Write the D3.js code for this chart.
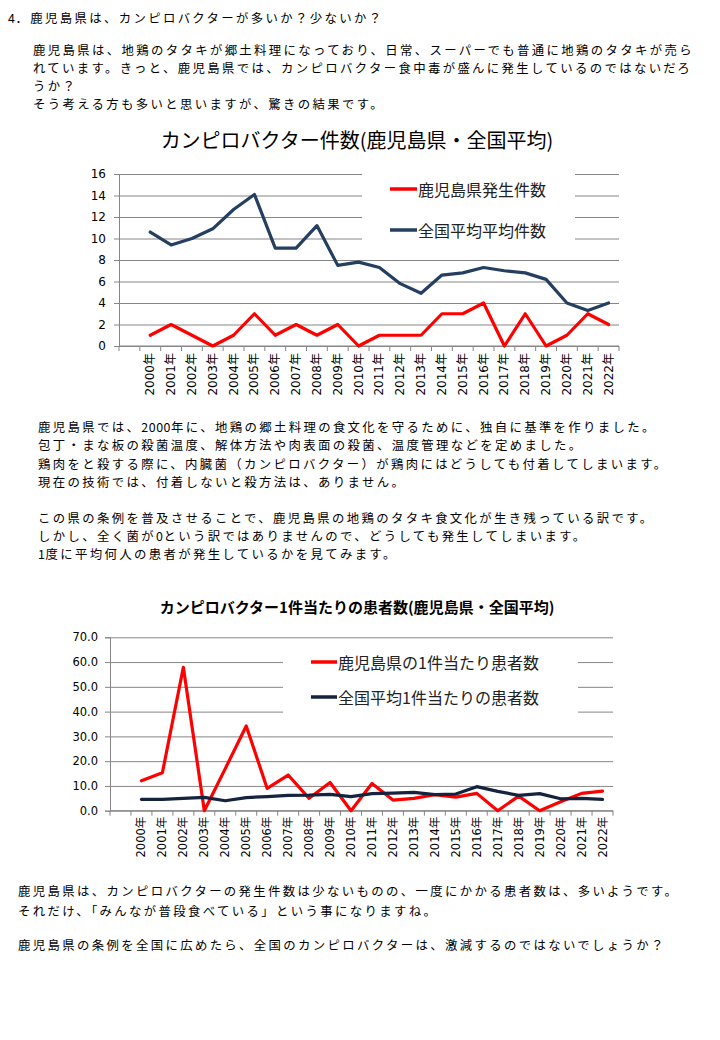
<!DOCTYPE html>
<html><head><meta charset="utf-8">
<script src="https://cdn.jsdelivr.net/npm/d3@7"></script>
<style>
html,body{margin:0;padding:0;background:#fff;}
svg{display:block;}
</style></head>
<body>
<svg id="page" width="720" height="1040"></svg>
<script>
// ---------- data ----------
const years = ["2000年","2001年","2002年","2003年","2004年","2005年","2006年","2007年","2008年","2009年","2010年","2011年","2012年","2013年","2014年","2015年","2016年","2017年","2018年","2019年","2020年","2021年","2022年"];
const categories = [""].concat(years); // the original chart has one empty leading category slot
const kagoshimaCases = [1,2,1,0,1,3,1,2,1,2,0,1,1,1,3,3,4,0,3,0,1,3,2];
const nationalCases = [10.6,9.4,10.0,10.9,12.7,14.1,9.1,9.1,11.2,7.5,7.8,7.3,5.8,4.9,6.6,6.8,7.3,7.0,6.8,6.2,4.0,3.3,4.0];
const kagoshimaPatients = [12.1,15.3,57.9,0,17.0,34.2,9.0,14.4,5.0,11.4,0,11.0,4.3,5.0,6.5,5.5,7.0,0,5.9,0,3.6,7.0,7.9];
const nationalPatients = [4.6,4.6,5.0,5.4,4.0,5.3,5.7,6.2,6.3,6.6,5.7,6.9,7.1,7.4,6.5,6.7,9.7,7.8,6.2,6.9,4.8,5.0,4.6];
const casesTicks = [0,2,4,6,8,10,12,14,16];
const patientsTicks = [0,10,20,30,40,50,60,70];

const title1 = "カンピロバクター件数(鹿児島県・全国平均)";
const title2 = "カンピロバクター1件当たりの患者数(鹿児島県・全国平均)";
const legend1 = ["鹿児島県発生件数","全国平均平均件数"];
const legend2 = ["鹿児島県の1件当たり患者数","全国平均1件当たりの患者数"];

const heading = "4．鹿児島県は、カンピロバクターが多いか？少ないか？";
const para1 = ["鹿児島県は、地鶏のタタキが郷土料理になっており、日常、スーパーでも普通に地鶏のタタキが売ら",
"れています。きっと、鹿児島県では、カンピロバクター食中毒が盛んに発生しているのではないだろ",
"うか？",
"そう考える方も多いと思いますが、驚きの結果です。"];
const para2 = ["鹿児島県では、2000年に、地鶏の郷土料理の食文化を守るために、独自に基準を作りました。",
"包丁・まな板の殺菌温度、解体方法や肉表面の殺菌、温度管理などを定めました。",
"鶏肉をと殺する際に、内臓菌（カンピロバクター）が鶏肉にはどうしても付着してしまいます。",
"現在の技術では、付着しないと殺方法は、ありません。",
"",
"この県の条例を普及させることで、鹿児島県の地鶏のタタキ食文化が生き残っている訳です。",
"しかし、全く菌が0という訳ではありませんので、どうしても発生してしまいます。",
"1度に平均何人の患者が発生しているかを見てみます。"];
const para3 = ["鹿児島県は、カンピロバクターの発生件数は少ないものの、一度にかかる患者数は、多いようです。",
"それだけ、「みんなが普段食べている」という事になりますね。",
"",
"鹿児島県の条例を全国に広めたら、全国のカンピロバクターは、激減するのではないでしょうか？"];

// ---------- page ----------
const svg = d3.select("#page");
svg.append("rect").attr("width",720).attr("height",1040).attr("fill","#fff");
const bodyFont = "'Noto Sans CJK JP', sans-serif";

function textBlock(lines, x, ys, size, spacing){
  const g = svg.append("g");
  lines.forEach((t,i)=>{
    if(!t) return;
    const el = g.append("text").attr("x",x).attr("y",ys[i])
      .attr("dominant-baseline","central")
      .attr("font-family",bodyFont).attr("font-size",size).attr("fill","#000");
    // ASCII runs get tighter spacing than full-width runs
    const runs = t.match(/[\x20-\x7e]+|[^\x20-\x7e]+/g);
    runs.forEach(r=>{
      el.append("tspan").attr("letter-spacing", /^[\x20-\x7e]+$/.test(r) ? 0.6 : spacing).text(r);
    });
  });
}
const bodySize = 12.4, bodySpacing = 2.35;
textBlock([heading], 8, [18], bodySize, bodySpacing);
textBlock(para1, 33, [50,68,86,104], bodySize, bodySpacing);
textBlock(para2, 38, [427,445,464,482,500,518,536,554], bodySize, bodySpacing);
textBlock(para3, 18, [891,911,928,945], bodySize, bodySpacing);

const tickFont = "'DejaVu Sans','Noto Sans CJK JP',sans-serif";
const gridColor = "#868686";

function drawChart(opt){
  const g = svg.append("g");
  const x = d3.scaleBand().domain(categories).range([opt.left, opt.right]);
  const y = d3.scaleLinear().domain(opt.domain).range([opt.bottom, opt.top]);

  // gridlines
  const grid = g.append("g").attr("transform",`translate(${opt.left},0)`)
    .call(d3.axisLeft(y).tickValues(opt.ticks).tickSize(-(opt.right-opt.left)).tickFormat(""));
  grid.select(".domain").remove();
  grid.selectAll("line").attr("stroke",gridColor).attr("stroke-width",1);

  // y axis
  const ya = g.append("g").attr("transform",`translate(${opt.left},0)`)
    .call(d3.axisLeft(y).tickValues(opt.ticks).tickSize(5).tickPadding(opt.yPad).tickFormat(opt.fmt));
  ya.select(".domain").attr("stroke",gridColor);
  ya.selectAll("line").attr("stroke",gridColor);
  ya.selectAll("text").attr("font-family",tickFont).attr("font-size",opt.yFont).attr("fill","#000");

  // x axis
  const xa = g.append("g").attr("transform",`translate(0,${opt.bottom})`)
    .call(d3.axisBottom(x).tickSize(0).tickPadding(0));
  xa.select(".domain").attr("stroke",gridColor).attr("d",`M${opt.left},0H${opt.right}`);
  xa.selectAll(".tick text")
    .attr("font-family",tickFont).attr("font-size",opt.xFont).attr("fill","#000")
    .attr("transform","rotate(-90)")
    .attr("text-anchor","end").attr("dominant-baseline","central")
    .attr("x",-opt.xLabelGap).attr("y",0).attr("dy",null);
  // tick marks at category boundaries
  const bounds = categories.map(c=>x(c)).concat([x.range()[1]]);
  g.append("g").selectAll("line").data(bounds).join("line")
    .attr("x1",d=>d).attr("x2",d=>d).attr("y1",opt.bottom).attr("y2",opt.bottom+5)
    .attr("stroke",gridColor);

  // legend box (covers gridlines)
  g.append("rect").attr("x",opt.legend.x).attr("y",opt.legend.y)
    .attr("width",opt.legend.w).attr("height",opt.legend.h).attr("fill","#fff");
  opt.series.forEach((s,i)=>{
    const ly = opt.legend.itemY[i];
    g.append("line").attr("x1",opt.legend.lineX1).attr("x2",opt.legend.lineX2)
      .attr("y1",ly).attr("y2",ly).attr("stroke",s.color).attr("stroke-width",3.5);
    g.append("text").attr("x",opt.legend.lineX2+1).attr("y",ly)
      .attr("dominant-baseline","central")
      .attr("font-family",bodyFont).attr("font-size",opt.legend.font).attr("fill","#222")
      .text(s.name);
  });

  // lines
  const line = d3.line().x((d,i)=>x(years[i])+x.bandwidth()/2).y(d=>y(d));
  opt.series.forEach(s=>{
    g.append("path").datum(s.values).attr("d",line)
      .attr("fill","none").attr("stroke",s.color).attr("stroke-width",3.2)
      .attr("stroke-linejoin","round").attr("stroke-linecap","round");
  });

  // title
  g.append("text").attr("x",opt.titleX).attr("y",opt.titleY)
    .attr("text-anchor","middle").attr("dominant-baseline","central")
    .attr("font-family",bodyFont).attr("font-size",opt.titleSize)
    .attr("font-weight",opt.titleWeight).attr("fill","#000")
    .text(opt.title);
}

drawChart({
  left:119, right:619, top:174, bottom:346, domain:[0,16], ticks:casesTicks,
  fmt:d3.format("d"), yFont:12, yPad:8, xFont:12, xLabelGap:7,
  title:title1, titleX:357, titleY:139, titleSize:20, titleWeight:400,
  legend:{x:362,y:168,w:213,h:78,lineX1:390,lineX2:417,itemY:[189,230],font:16},
  series:[{name:legend1[0],values:kagoshimaCases,color:"#ff0000"},
          {name:legend1[1],values:nationalCases,color:"#243f60"}]
});

drawChart({
  left:110, right:613, top:637.3, bottom:810.7, domain:[0,70], ticks:patientsTicks,
  fmt:d3.format(".1f"), yFont:11.5, yPad:7, xFont:11.5, xLabelGap:6,
  title:title2, titleX:357, titleY:606, titleSize:15, titleWeight:700,
  legend:{x:283,y:645,w:295,h:74,lineX1:311,lineX2:337,itemY:[662,697],font:16},
  series:[{name:legend2[0],values:kagoshimaPatients,color:"#ff0000"},
          {name:legend2[1],values:nationalPatients,color:"#15233f"}]
});
</script>
</body></html>
